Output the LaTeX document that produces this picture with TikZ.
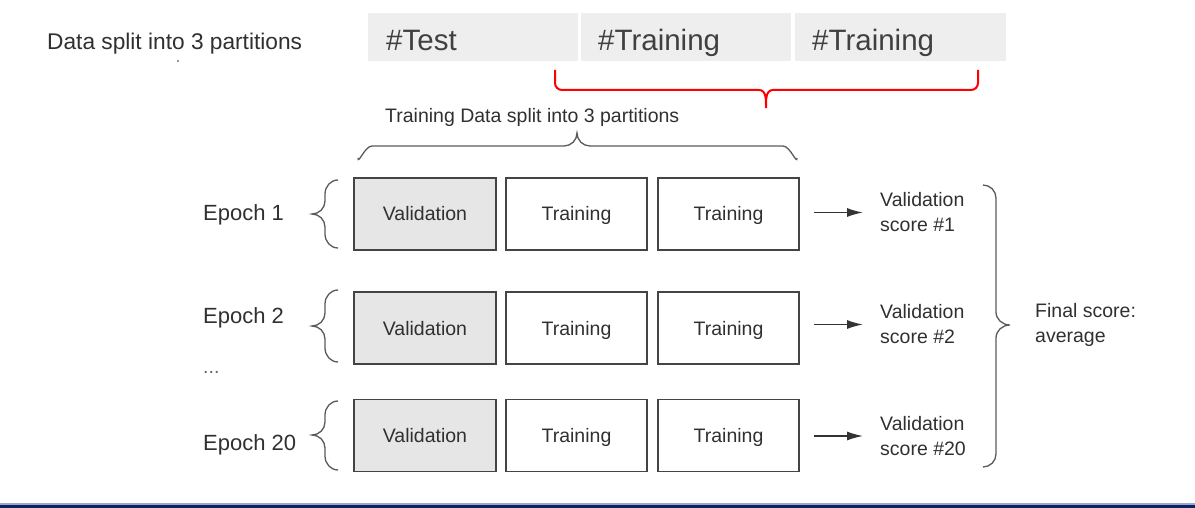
\documentclass[tikz,border=0pt]{standalone}
\usepackage{fontspec}
\setmainfont{Liberation Sans}
\usetikzlibrary{arrows.meta}
\definecolor{txt}{HTML}{303030}
\definecolor{toptxt}{HTML}{404040}
\definecolor{topfill}{HTML}{EEEEEE}
\definecolor{valfill}{HTML}{E6E6E6}
\definecolor{boxline}{HTML}{444444}
\definecolor{bracecol}{HTML}{5A5A5A}
\definecolor{navy}{HTML}{0D2060}
\definecolor{lightnavy}{HTML}{9AAACB}
\begin{document}
\begin{tikzpicture}[x=1pt,y=-1pt,
  toppart/.style={fill=topfill,draw=none,minimum width=210pt,minimum height=48pt,inner sep=0pt},
  toptext/.style={font=\fontsize{29.5}{34}\selectfont,text=toptxt,anchor=base west,inner sep=0pt},
  lbl/.style={font=\fontsize{22}{26}\selectfont,text=txt,anchor=base west,inner sep=0pt},
  small/.style={font=\fontsize{19.5}{25}\selectfont,text=txt,inner sep=0pt},
  cell/.style={draw=boxline,line width=1.3pt,minimum width=141pt,minimum height=72pt,inner sep=0pt,
    font=\fontsize{19.5}{23}\selectfont,text=txt,text height=14pt,text depth=0pt},
  valcell/.style={cell,fill=valfill},
  brace/.style={draw=bracecol,line width=1.3pt},
  arr/.style={draw=black!80,line width=1.4pt,-{Latex[length=16pt,width=9pt]}}
]
\useasboundingbox (0,0) rectangle (1195,508);
% top line
\node[lbl,font=\fontsize{22.7}{27}\selectfont] (dsplit) at (47,50) {Data split into 3 partitions};
\fill[txt] (178,61) circle (0.9pt);
\node[toppart] (p1) at (473,37) {};
\node[toppart] (p2) at (686,37) {};
\node[toppart,minimum width=211pt] (p3) at (900.5,37) {};
\node[toptext] (t1) at (386,50.5) {\#Test};
\node[toptext] (t2) at (598,50.5) {\#Training};
\node[toptext] (t3) at (812,50.5) {\#Training};
% red brace
\draw[red,line width=2pt] (555,70) -- (555,83) to[out=-90,in=180] (562,90) -- (759,90)
  to[out=0,in=90] (766,108) to[out=90,in=180] (773,90) -- (971,90) to[out=0,in=-90] (978,83) -- (978,70);
% training data label
\node[small,anchor=base west] (tds) at (385,123) {Training Data split into 3 partitions};
\draw[brace] (358,158) to[out=-90,in=180] (372,146) -- (564,146) to[out=0,in=-90] (577,133)
  to[out=-90,in=180] (590,146) -- (783,146) to[out=0,in=-90] (797,158);
% rows
\foreach \r/\yc/\T/\B/\M in {1/214/180/248/214, 2/328/290/362/326, 3/435.5/401/470/435}{
  \node[valcell,minimum width=142pt] (v\r) at (425,\yc) {Validation};
  \node[cell] (a\r) at (576.5,\yc) {Training};
  \node[cell] (b\r) at (728.5,\yc) {Training};
  \draw[brace] (338,\T) to[out=180,in=90] (325,\T+14) -- (325,\M-13) to[out=-90,in=0] (312,\M)
    to[out=0,in=90] (325,\M+13) -- (325,\B-14) to[out=-90,in=180] (338,\B);
}
\node[lbl] (e1) at (203,220) {Epoch 1};
\node[lbl] (e2) at (203,323) {Epoch 2};
\node[small,anchor=base west,text=black!60] (dots) at (203,373) {...};
\node[lbl] (e3) at (203,450) {Epoch 20};
% scores
\node[small,anchor=west,align=left] (s1) at (880,212.5) {Validation\\score \#1};
\node[small,anchor=west,align=left] (s2) at (880,324.5) {Validation\\score \#2};
\node[small,anchor=west,align=left] (s3) at (880,436) {Validation\\score \#20};
\draw[arr,shorten <=14pt,shorten >=17pt] (b1.east |- s1.west) -- (s1.west);
\draw[arr,shorten <=14pt,shorten >=17pt] (b2.east |- s2.west) -- (s2.west);
\draw[arr,shorten <=14pt,shorten >=17pt] (b3.east |- s3.west) -- (s3.west);
% right brace
\draw[brace] (983,185) to[out=0,in=90] (996,198) -- (996,312) to[out=-90,in=180] (1010,325)
  to[out=180,in=90] (996,338) -- (996,454) to[out=-90,in=0] (983,467);
\node[small,anchor=west,align=left] (fs) at (1035,324.5) {Final score:\\average};
% bottom bar
\fill[lightnavy] (0,503) rectangle (1195,505);
\fill[navy] (0,505) rectangle (1195,508);
\end{tikzpicture}
\end{document}
